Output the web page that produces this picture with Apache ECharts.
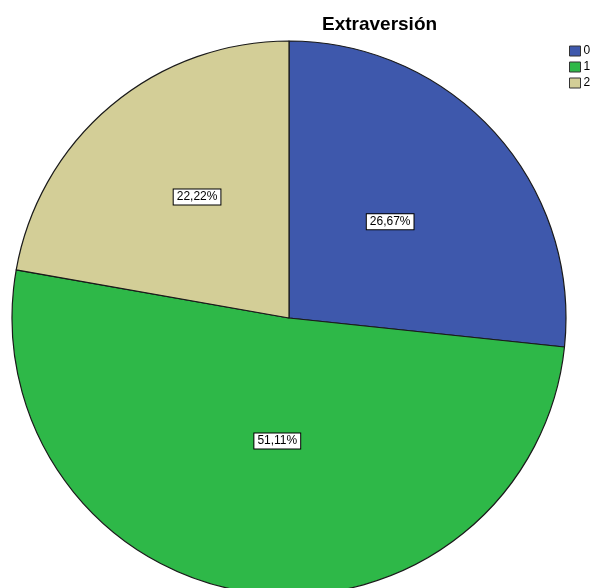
<!DOCTYPE html>
<html>
<head>
<meta charset="utf-8">
<script src="https://cdn.jsdelivr.net/npm/echarts@6/dist/echarts.min.js"></script>
<style>
  html, body { margin: 0; padding: 0; background: #ffffff; }
  #chart { width: 592px; height: 588px; }
</style>
</head>
<body>
<div id="chart"></div>
<script>
// Extraversión score groups and their share of respondents (%)
const categories = ['0', '1', '2'];
const percentages = [26.67, 51.11, 22.22];
const sliceColors = ['#3E58AC', '#2EB848', '#D3CE97'];

// Small nudges along each slice so the value boxes sit where the report places them
const labelNudge = { '0': [-4, -1.5], '1': [8, -17], '2': [-1, -12.5] };

const chart = echarts.init(document.getElementById('chart'), null, { renderer: 'canvas' });

const fmt = v => v.toFixed(2).replace('.', ',') + '%';

chart.setOption({
  animation: false,
  backgroundColor: '#ffffff',
  color: sliceColors,
  title: {
    text: 'Extraversión',
    left: 322,
    top: 15,
    padding: 0,
    textStyle: {
      fontFamily: 'Liberation Sans, Arial, sans-serif',
      fontWeight: 'bold',
      fontSize: 19,
      color: '#000000'
    }
  },
  legend: {
    orient: 'vertical',
    left: 569,
    top: 45,
    padding: 0,
    itemWidth: 11,
    itemHeight: 10,
    itemGap: 4,
    icon: 'rect',
    itemStyle: { borderColor: '#333333', borderWidth: 1 },
    textStyle: {
      fontFamily: 'Liberation Sans, Arial, sans-serif',
      fontSize: 12,
      lineHeight: 12,
      color: '#000000',
      padding: [0, 0, 0, -2]
    },
    data: categories
  },
  series: [{
    type: 'pie',
    center: [289, 318],
    radius: 277,
    startAngle: 90,
    clockwise: true,
    avoidLabelOverlap: false,
    itemStyle: { borderColor: '#1a1a1a', borderWidth: 1.2 },
    label: {
      show: true,
      position: 'inside',
      formatter: p => fmt(p.value),
      fontFamily: 'Liberation Sans, Arial, sans-serif',
      fontSize: 12,
      color: '#000000',
      backgroundColor: '#ffffff',
      borderColor: '#000000',
      borderWidth: 1,
      padding: [2, 3, 1, 3]
    },
    labelLine: { show: false },
    emphasis: { disabled: true },
    data: categories.map((c, i) => ({
      name: c,
      value: percentages[i],
      label: { offset: labelNudge[c] }
    }))
  }]
});
</script>
</body>
</html>
